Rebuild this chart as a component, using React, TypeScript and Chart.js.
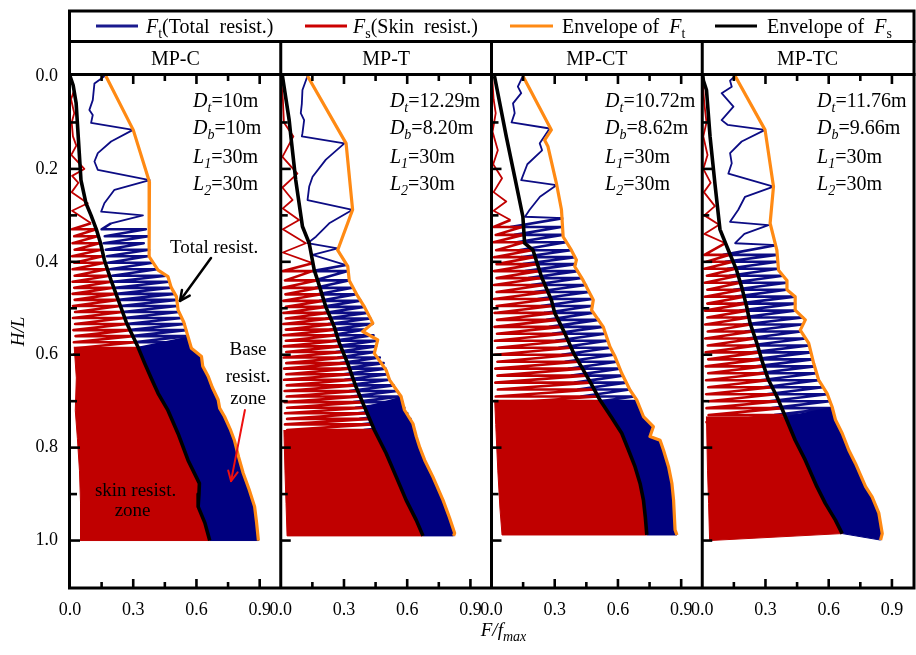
import React, { useEffect, useRef } from 'react';
import { Chart, registerables } from 'chart.js';

Chart.register(...registerables);

const FONT = "'Liberation Serif', 'Times New Roman', Times, serif";
const NAVY = '#0c0c84';
const FILL_NAVY = '#00007f';
const RED = '#c00000';
const ORANGE = '#ff8a14';

const PANEL_TITLES = ['MP-C', 'MP-T', 'MP-CT', 'MP-TC'];
const PANEL_DT = ['10m', '12.29m', '10.72m', '11.76m'];
const PANEL_DB = ['10m', '8.20m', '8.62m', '9.66m'];
const PANEL_L1 = ['30m', '30m', '30m', '30m'];
const PANEL_L2 = ['30m', '30m', '30m', '30m'];
const X_TICK_VALUES = [0, 0.3, 0.6, 0.9];
const X_MINOR = [0.15, 0.45, 0.75];
const Y_TICK_VALUES = [0, 0.2, 0.4, 0.6, 0.8, 1.0];
const Y_MINOR = [0.1, 0.3, 0.5, 0.7, 0.9];

// ---------- MP-C : [H/L, F/fmax] ----------
const ENV_T_C = [[0,0.17],[0.116,0.30],[0.228,0.377],[0.30,0.375],[0.389,0.376],[0.418,0.418],[0.432,0.465],[0.455,0.48],[0.475,0.505],[0.504,0.513],[0.53,0.54],[0.561,0.56],[0.586,0.576],[0.604,0.624],[0.625,0.63],[0.647,0.656],[0.67,0.675],[0.697,0.703],[0.715,0.71],[0.733,0.733],[0.76,0.76],[0.784,0.78],[0.82,0.80],[0.855,0.822],[0.89,0.85],[0.927,0.876],[0.96,0.885],[1.0,0.894]];
const ENV_S_C = [[0,0.0],[0.02,0.015],[0.058,0.029],[0.166,0.044],[0.224,0.052],[0.274,0.076],[0.30,0.10],[0.33,0.125],[0.36,0.145],[0.396,0.163],[0.44,0.195],[0.48,0.227],[0.53,0.267],[0.583,0.322],[0.618,0.354],[0.65,0.385],[0.683,0.418],[0.72,0.465],[0.77,0.513],[0.827,0.56],[0.877,0.614],[0.90,0.612],[0.927,0.608],[0.962,0.64],[1.0,0.663]];
const BLUE_TOP_C = [[0,0.165],[0.016,0.116],[0.052,0.108],[0.073,0.092],[0.084,0.108],[0.101,0.10],[0.116,0.299],[0.141,0.195],[0.166,0.132],[0.184,0.116],[0.202,0.132],[0.224,0.378],[0.245,0.211],[0.274,0.163],[0.292,0.148],[0.30,0.346],[0.317,0.195]];
const RED_TOP_C = [[0,0.0],[0.03,0.02],[0.05,0.005],[0.08,0.02],[0.10,0.008],[0.13,0.014],[0.15,0.03],[0.17,0.006],[0.20,0.068],[0.215,0.01],[0.23,0.04],[0.25,0.008],[0.274,0.084],[0.29,0.01],[0.317,0.10]];
// cycles: [H/L, Ft peak, Ft trough, Fs peak, Fs trough]
const CYC_C = [[0.330,0.360,0.150,0.125,0.010],[0.345,0.372,0.165,0.130,0.020],[0.360,0.350,0.160,0.140,0.012],[0.374,0.375,0.170,0.148,0.022],[0.388,0.368,0.175,0.155,0.010],[0.402,0.392,0.180,0.165,0.020],[0.416,0.412,0.190,0.172,0.012],[0.430,0.455,0.200,0.188,0.022],[0.443,0.468,0.205,0.196,0.012],[0.456,0.478,0.215,0.205,0.020],[0.469,0.495,0.222,0.218,0.012],[0.482,0.505,0.232,0.228,0.022],[0.495,0.508,0.240,0.238,0.014],[0.508,0.515,0.250,0.248,0.024],[0.521,0.528,0.258,0.260,0.014],[0.534,0.542,0.268,0.270,0.024],[0.547,0.550,0.280,0.283,0.016],[0.560,0.558,0.292,0.298,0.026],[0.573,0.566,0.305,0.310,0.018],[0.586,0.575,0.316,0.322,0.026],[0.599,0.605,0.328,0.335,0.020]];
const LEFT_C = [[0.583,0.02],[0.65,0.03],[0.72,0.025],[0.78,0.035],[0.85,0.045],[0.92,0.05],[1.0,0.05]];

// ---------- MP-T ----------
const ENV_T_T = [[0,0.127],[0.145,0.31],[0.288,0.341],[0.375,0.27],[0.41,0.318],[0.44,0.325],[0.47,0.36],[0.497,0.397],[0.532,0.437],[0.55,0.389],[0.568,0.46],[0.597,0.444],[0.633,0.50],[0.654,0.516],[0.69,0.571],[0.719,0.587],[0.748,0.627],[0.776,0.643],[0.80,0.66],[0.827,0.683],[0.863,0.722],[0.913,0.77],[0.95,0.80],[0.984,0.825],[0.99,0.82]];
const ENV_S_T = [[0,0.008],[0.095,0.04],[0.13,0.048],[0.224,0.071],[0.324,0.103],[0.36,0.135],[0.418,0.159],[0.44,0.175],[0.497,0.214],[0.54,0.254],[0.575,0.278],[0.619,0.318],[0.669,0.357],[0.712,0.397],[0.762,0.444],[0.812,0.50],[0.863,0.548],[0.913,0.595],[0.956,0.643],[0.99,0.675]];
const BLUE_TOP_T = [[0,0.127],[0.03,0.103],[0.06,0.10],[0.08,0.095],[0.095,0.111],[0.123,0.103],[0.13,0.10],[0.145,0.302],[0.18,0.214],[0.217,0.151],[0.238,0.135],[0.267,0.127],[0.288,0.341],[0.317,0.23],[0.346,0.167],[0.36,0.127],[0.371,0.27],[0.385,0.151],[0.407,0.31]];
const RED_TOP_T = [[0,0.0],[0.05,0.01],[0.1,0.015],[0.13,0.06],[0.174,0.008],[0.21,0.079],[0.24,0.008],[0.267,0.056],[0.285,0.01],[0.31,0.087],[0.33,0.01],[0.36,0.119],[0.38,0.01],[0.403,0.151]];
const CYC_T = [[0.420,0.318,0.150,0.150,0.010],[0.440,0.322,0.160,0.170,0.020],[0.456,0.340,0.165,0.182,0.010],[0.470,0.358,0.175,0.192,0.022],[0.484,0.378,0.185,0.205,0.012],[0.497,0.395,0.195,0.214,0.024],[0.510,0.410,0.205,0.222,0.012],[0.522,0.425,0.215,0.235,0.024],[0.534,0.435,0.225,0.252,0.012],[0.546,0.395,0.235,0.260,0.024],[0.558,0.440,0.240,0.266,0.012],[0.570,0.458,0.248,0.275,0.024],[0.582,0.452,0.255,0.285,0.014],[0.594,0.446,0.262,0.296,0.026],[0.606,0.470,0.272,0.306,0.014],[0.618,0.488,0.282,0.316,0.026],[0.630,0.497,0.290,0.326,0.016],[0.642,0.508,0.298,0.336,0.026],[0.654,0.515,0.305,0.344,0.016],[0.666,0.535,0.315,0.354,0.028],[0.678,0.552,0.325,0.366,0.018],[0.690,0.570,0.335,0.377,0.028],[0.702,0.578,0.345,0.388,0.018],[0.714,0.586,0.355,0.398,0.030],[0.726,0.600,0.365,0.410,0.020],[0.738,0.615,0.375,0.420,0.030],[0.750,0.627,0.385,0.432,0.020],[0.762,0.635,0.395,0.444,0.030],[0.774,0.642,0.405,0.458,0.022]];
const LEFT_T = [[0.762,0.015],[0.85,0.02],[0.92,0.025],[0.99,0.03]];

// ---------- MP-CT ----------
const ENV_T_CT = [[0,0.149],[0.116,0.284],[0.138,0.252],[0.152,0.268],[0.231,0.308],[0.288,0.332],[0.346,0.34],[0.375,0.379],[0.396,0.403],[0.41,0.395],[0.44,0.435],[0.468,0.467],[0.482,0.483],[0.504,0.475],[0.54,0.53],[0.583,0.562],[0.604,0.586],[0.64,0.618],[0.676,0.657],[0.697,0.689],[0.733,0.721],[0.755,0.768],[0.776,0.752],[0.784,0.80],[0.805,0.816],[0.841,0.84],[0.877,0.856],[0.913,0.864],[0.977,0.871],[0.988,0.88]];
const ENV_S_CT = [[0,0.014],[0.13,0.07],[0.217,0.11],[0.303,0.149],[0.36,0.157],[0.375,0.197],[0.432,0.237],[0.482,0.284],[0.51,0.30],[0.554,0.348],[0.597,0.39],[0.626,0.427],[0.66,0.47],[0.697,0.514],[0.735,0.57],[0.769,0.618],[0.805,0.65],[0.841,0.681],[0.877,0.705],[0.913,0.721],[0.95,0.73],[0.988,0.737]];
const BLUE_TOP_CT = [[0,0.149],[0.023,0.125],[0.037,0.141],[0.059,0.102],[0.08,0.11],[0.10,0.095],[0.113,0.276],[0.145,0.229],[0.16,0.24],[0.19,0.17],[0.224,0.141],[0.235,0.308],[0.26,0.23],[0.288,0.181],[0.303,0.159],[0.306,0.34]];
const RED_TOP_CT = [[0,0.003],[0.05,0.01],[0.08,0.02],[0.12,0.005],[0.16,0.03],[0.19,0.008],[0.22,0.05],[0.25,0.01],[0.27,0.07],[0.29,0.01],[0.31,0.09]];
const CYC_CT = [[0.325,0.330,0.090,0.145,0.010],[0.342,0.336,0.110,0.150,0.020],[0.358,0.352,0.120,0.155,0.010],[0.375,0.375,0.130,0.190,0.022],[0.390,0.395,0.140,0.200,0.012],[0.405,0.398,0.150,0.212,0.024],[0.420,0.408,0.160,0.222,0.012],[0.435,0.428,0.175,0.236,0.024],[0.450,0.448,0.190,0.250,0.012],[0.465,0.462,0.205,0.266,0.024],[0.480,0.478,0.220,0.280,0.012],[0.495,0.476,0.235,0.288,0.024],[0.510,0.478,0.250,0.298,0.014],[0.525,0.508,0.262,0.312,0.026],[0.540,0.527,0.275,0.330,0.014],[0.555,0.538,0.290,0.346,0.026],[0.570,0.550,0.305,0.360,0.016],[0.585,0.563,0.320,0.375,0.028],[0.600,0.580,0.335,0.390,0.016],[0.615,0.594,0.350,0.410,0.028],[0.630,0.608,0.365,0.428,0.018],[0.645,0.621,0.380,0.447,0.028],[0.660,0.638,0.395,0.466,0.018],[0.675,0.655,0.410,0.485,0.030],[0.690,0.676,0.425,0.502,0.020],[0.705,0.692,0.440,0.518,0.030]];
const LEFT_CT = [[0.697,0.015],[0.75,0.02],[0.85,0.03],[0.93,0.04],[0.988,0.05]];

// ---------- MP-TC ----------
const ENV_T_TC = [[0,0.156],[0.116,0.298],[0.238,0.338],[0.317,0.322],[0.375,0.354],[0.418,0.362],[0.44,0.402],[0.46,0.402],[0.475,0.441],[0.504,0.441],[0.525,0.489],[0.547,0.465],[0.575,0.505],[0.619,0.529],[0.654,0.552],[0.683,0.592],[0.712,0.616],[0.74,0.632],[0.769,0.664],[0.805,0.695],[0.834,0.727],[0.884,0.775],[0.906,0.806],[0.941,0.838],[0.985,0.854],[0.999,0.846]];
const ENV_S_TC = [[0,0.003],[0.009,0.005],[0.03,0.02],[0.13,0.037],[0.231,0.06],[0.33,0.084],[0.375,0.124],[0.418,0.163],[0.454,0.187],[0.497,0.211],[0.532,0.227],[0.575,0.259],[0.611,0.282],[0.654,0.314],[0.69,0.354],[0.733,0.394],[0.784,0.441],[0.827,0.489],[0.884,0.544],[0.92,0.584],[0.956,0.632],[0.985,0.664]];
const BLUE_TOP_TC = [[0,0.156],[0.01,0.132],[0.023,0.14],[0.037,0.092],[0.066,0.148],[0.095,0.092],[0.105,0.12],[0.116,0.298],[0.141,0.187],[0.166,0.132],[0.188,0.14],[0.21,0.124],[0.238,0.338],[0.26,0.203],[0.288,0.171],[0.314,0.132],[0.321,0.314],[0.34,0.2],[0.36,0.156],[0.364,0.354]];
const RED_TOP_TC = [[0,0.0],[0.06,0.01],[0.1,0.02],[0.13,0.005],[0.17,0.025],[0.2,0.005],[0.23,0.04],[0.25,0.008],[0.28,0.06],[0.3,0.01],[0.32,0.08],[0.34,0.01],[0.36,0.11]];
const CYC_TC = [[0.385,0.352,0.100,0.130,0.010],[0.400,0.356,0.110,0.145,0.020],[0.415,0.360,0.120,0.158,0.010],[0.430,0.382,0.130,0.170,0.022],[0.445,0.400,0.140,0.180,0.012],[0.460,0.398,0.150,0.190,0.024],[0.475,0.438,0.160,0.198,0.012],[0.490,0.440,0.170,0.206,0.024],[0.505,0.438,0.180,0.213,0.012],[0.520,0.476,0.188,0.220,0.024],[0.535,0.472,0.196,0.228,0.014],[0.550,0.466,0.205,0.238,0.026],[0.565,0.488,0.215,0.250,0.014],[0.580,0.505,0.225,0.260,0.026],[0.595,0.514,0.235,0.270,0.016],[0.610,0.522,0.245,0.280,0.028],[0.625,0.531,0.255,0.290,0.016],[0.640,0.541,0.265,0.302,0.028],[0.655,0.551,0.275,0.313,0.018],[0.670,0.572,0.290,0.330,0.028],[0.685,0.592,0.305,0.347,0.018],[0.700,0.604,0.318,0.362,0.030],[0.715,0.616,0.330,0.376,0.020],[0.730,0.624,0.342,0.389,0.030],[0.745,0.636,0.355,0.403,0.020]];
const LEFT_TC = [[0.733,0.02],[0.85,0.025],[0.92,0.03],[1.0,0.035]];

const CUT_BLUE = [0.583, 0.712, 0.697, 0.733];
const CUT_RED = [0.583, 0.762, 0.697, 0.733];

const PANELS = [
  { envT: ENV_T_C, envS: ENV_S_C, blueTop: BLUE_TOP_C, redTop: RED_TOP_C, cyc: CYC_C, left: LEFT_C },
  { envT: ENV_T_T, envS: ENV_S_T, blueTop: BLUE_TOP_T, redTop: RED_TOP_T, cyc: CYC_T, left: LEFT_T },
  { envT: ENV_T_CT, envS: ENV_S_CT, blueTop: BLUE_TOP_CT, redTop: RED_TOP_CT, cyc: CYC_CT, left: LEFT_CT },
  { envT: ENV_T_TC, envS: ENV_S_TC, blueTop: BLUE_TOP_TC, redTop: RED_TOP_TC, cyc: CYC_TC, left: LEFT_TC },
];

type Run = [string, number]; // flags: 1 italic, 2 subscript

function rich(ctx: CanvasRenderingContext2D, runs: Run[], x: number, y: number, size: number, align: 'left' | 'center') {
  const fontFor = (f: number) => `${f & 1 ? 'italic ' : ''}${f & 2 ? Math.round(size * 0.72) : size}px ${FONT}`;
  let w = 0;
  for (const [t, f] of runs) { ctx.font = fontFor(f); w += ctx.measureText(t).width; }
  let cx = align === 'center' ? x - w / 2 : x;
  ctx.textAlign = 'left';
  ctx.textBaseline = 'alphabetic';
  for (const [t, f] of runs) {
    ctx.font = fontFor(f);
    ctx.fillText(t, cx, y + (f & 2 ? size * 0.25 : 0));
    cx += ctx.measureText(t).width;
  }
}

function seg(ctx: CanvasRenderingContext2D, x1: number, y1: number, x2: number, y2: number) {
  ctx.beginPath(); ctx.moveTo(x1, y1); ctx.lineTo(x2, y2); ctx.stroke();
}

function arrow(ctx: CanvasRenderingContext2D, x1: number, y1: number, x2: number, y2: number, color: string, w: number) {
  ctx.strokeStyle = color; ctx.lineWidth = w; ctx.lineCap = 'round';
  seg(ctx, x1, y1, x2, y2);
  const a = Math.atan2(y2 - y1, x2 - x1);
  const L = 11;
  seg(ctx, x2, y2, x2 - L * Math.cos(a - 0.45), y2 - L * Math.sin(a - 0.45));
  seg(ctx, x2, y2, x2 - L * Math.cos(a + 0.45), y2 - L * Math.sin(a + 0.45));
}

const LEGEND = [
  { color: '#1a1a8e', x1: 96, x2: 138, tx: 146, runs: [['F', 1], ['t', 2], ['(Total  resist.)', 0]] as Run[] },
  { color: '#cc0000', x1: 305, x2: 347, tx: 353, runs: [['F', 1], ['s', 2], ['(Skin  resist.)', 0]] as Run[] },
  { color: ORANGE, x1: 510, x2: 553, tx: 562, runs: [['Envelope of  ', 0], ['F', 1], ['t', 2]] as Run[] },
  { color: '#000', x1: 715, x2: 757, tx: 767, runs: [['Envelope of  ', 0], ['F', 1], ['s', 2]] as Run[] },
];
const ANNOT_X = [0.584, 0.518, 0.539, 0.545];

const framePlugin = {
  id: 'frame',
  afterDraw(chart: any) {
    const ctx: CanvasRenderingContext2D = chart.ctx;
    const xs = chart.scales.x;
    const ys = chart.scales.y;
    const { left, right, top, bottom } = chart.chartArea;
    const X = (v: number) => xs.getPixelForValue(v);
    const Y = (v: number) => ys.getPixelForValue(v);
    ctx.save();
    ctx.strokeStyle = '#000';
    ctx.fillStyle = '#000';
    ctx.lineCap = 'butt';
    ctx.lineWidth = 2.6;
    for (let k = 0; k < 4; k++) {
      const x0 = X(k);
      for (const v of X_TICK_VALUES.slice(1)) {
        const px = X(k + v);
        seg(ctx, px, bottom, px, bottom - 8);
        seg(ctx, px, top, px, top + 8);
      }
      for (const v of X_MINOR) {
        const px = X(k + v);
        seg(ctx, px, bottom, px, bottom - 5);
        seg(ctx, px, top, px, top + 5);
      }
      for (const v of Y_TICK_VALUES.slice(1)) seg(ctx, x0, Y(v), x0 + 10, Y(v));
      for (const v of Y_MINOR) seg(ctx, x0, Y(v), x0 + 7, Y(v));
    }
    ctx.lineWidth = 3;
    ctx.strokeRect(left - 0.5, 11, right + 1 - (left - 0.5), bottom + 1 - 11);
    seg(ctx, left - 2, 41.5, right + 2.5, 41.5);
    seg(ctx, left - 2, 74.5, right + 2.5, 74.5);
    for (let k = 1; k < 4; k++) seg(ctx, X(k), 41.5, X(k), bottom + 1);
    for (const it of LEGEND) {
      ctx.strokeStyle = it.color; ctx.lineWidth = 3;
      seg(ctx, it.x1, 26, it.x2, 26);
      ctx.fillStyle = '#000';
      rich(ctx, it.runs, it.tx, 33, 20, 'left');
    }
    for (let k = 0; k < 4; k++) {
      ctx.fillStyle = '#000';
      rich(ctx, [[PANEL_TITLES[k], 0]], X(k + 0.5), 65, 20, 'center');
      const ax = X(k + ANNOT_X[k]);
      rich(ctx, [['D', 1], ['t', 3], ['=' + PANEL_DT[k], 0]], ax, Y(0.066), 20, 'left');
      rich(ctx, [['D', 1], ['b', 3], ['=' + PANEL_DB[k], 0]], ax, Y(0.1255), 20, 'left');
      rich(ctx, [['L', 1], ['1', 3], ['=' + PANEL_L1[k], 0]], ax, Y(0.1867), 20, 'left');
      rich(ctx, [['L', 1], ['2', 3], ['=' + PANEL_L2[k], 0]], ax, Y(0.245), 20, 'left');
    }
    ctx.fillStyle = '#000';
    rich(ctx, [['Total resist.', 0]], X(0.474), Y(0.381), 19, 'left');
    arrow(ctx, X(0.669), Y(0.392), X(0.522), Y(0.484), '#000', 2.5);
    ctx.fillStyle = '#000';
    rich(ctx, [['Base', 0]], X(0.845), Y(0.601), 19, 'center');
    rich(ctx, [['resist.', 0]], X(0.845), Y(0.658), 19, 'center');
    rich(ctx, [['zone', 0]], X(0.845), Y(0.706), 19, 'center');
    arrow(ctx, X(0.83), Y(0.719), X(0.764), Y(0.872), '#ee1010', 2);
    ctx.fillStyle = '#000';
    rich(ctx, [['skin resist.', 0]], X(0.311), Y(0.904), 19, 'center');
    rich(ctx, [['zone', 0]], X(0.297), Y(0.947), 19, 'center');
    rich(ctx, [['F/f', 1], ['max', 3]], X(2) + 12, 636, 19, 'center');
    ctx.translate(24, (top + bottom) / 2);
    ctx.rotate(-Math.PI / 2);
    rich(ctx, [['H/L', 1]], 0, 0, 19, 'center');
    ctx.restore();
  },
};

function fromCut(env: number[][], cut: number) {
  let i = env.findIndex(p => p[0] >= cut - 1e-9);
  if (i < 0) i = env.length - 1;
  if (env[i][0] > cut + 1e-9) i = Math.max(0, i - 1);
  return env.slice(i);
}

function cyclePath(start: number[], cyc: number[][], peak: number, trough: number) {
  const pts = [start];
  for (const c of cyc) { pts.push([c[0], c[trough]]); pts.push([c[0], c[peak]]); }
  return pts;
}

export default function App() {
  const ref = useRef<HTMLCanvasElement>(null);
  useEffect(() => {
    const canvas = ref.current!;
    const datasets: any[] = [];
    const toXY = (k: number, arr: number[][]) => arr.map(([h, v]) => ({ x: v + k, y: h }));
    const line = (data: any[], color: string, width: number, order: number, fill: any = false, bg?: string) => ({
      data, showLine: true, borderColor: color, backgroundColor: bg || color, borderWidth: width,
      pointRadius: 0, fill, order, borderJoinStyle: 'round', tension: 0,
    });
    PANELS.forEach((p, k) => {
      const blueCyc = cyclePath(p.blueTop[p.blueTop.length - 1], p.cyc, 1, 2);
      const redCyc = cyclePath(p.redTop[p.redTop.length - 1], p.cyc, 3, 4);
      const bluePoly = [...fromCut(p.envS, CUT_BLUE[k]), ...fromCut(p.envT, CUT_BLUE[k]).reverse()];
      const redPoly = [...p.left, ...fromCut(p.envS, CUT_RED[k]).reverse()];
      datasets.push(line(toXY(k, p.blueTop), NAVY, 1.8, 7));
      datasets.push(line(toXY(k, blueCyc), NAVY, 2.6, 6));
      datasets.push(line(toXY(k, bluePoly), FILL_NAVY, 1, 5, 'shape', FILL_NAVY));
      datasets.push(line(toXY(k, p.redTop), RED, 1.8, 4));
      datasets.push(line(toXY(k, redCyc), RED, 2.6, 4));
      datasets.push(line(toXY(k, redPoly), RED, 1, 3, 'shape', RED));
      datasets.push(line(toXY(k, p.envS), '#000', 3.6, 1));
      datasets.push(line(toXY(k, p.envT), ORANGE, 3.2, 0));
    });
    const xTicks: number[] = [];
    for (let k = 0; k < 4; k++) for (const v of X_TICK_VALUES) xTicks.push(k + v);
    const chart = new Chart(canvas, {
      type: 'scatter',
      data: { datasets },
      options: {
        responsive: false,
        animation: false,
        events: [],
        layout: { padding: { top: 76, left: 0, right: 3, bottom: 0 } },
        plugins: { legend: { display: false }, tooltip: { enabled: false } },
        scales: {
          x: {
            type: 'linear', min: 0, max: 4,
            afterBuildTicks: (s: any) => { s.ticks = xTicks.map(v => ({ value: v })); },
            afterFit: (s: any) => { s.height = 68; },
            grid: { display: false, drawTicks: false },
            border: { display: false },
            ticks: {
              autoSkip: false, maxRotation: 0, minRotation: 0, padding: 12, color: '#000',
              font: { family: FONT, size: 18 },
              callback: (v: any) => (Number(v) % 1).toFixed(1),
            },
          },
          y: {
            type: 'linear', min: 0, max: 1.1, reverse: true,
            afterBuildTicks: (s: any) => { s.ticks = Y_TICK_VALUES.map(v => ({ value: v })); },
            afterFit: (s: any) => { s.width = 70; },
            grid: { display: false, drawTicks: false },
            border: { display: false },
            ticks: {
              padding: 12, color: '#000',
              font: { family: FONT, size: 18 },
              callback: (v: any) => Number(v).toFixed(1),
            },
          },
        },
      } as any,
      plugins: [framePlugin],
    });
    return () => chart.destroy();
  }, []);
  return (
    <div style={{ position: 'absolute', left: 0, top: 0, width: 916, height: 655, background: '#fff' }}>
      <canvas ref={ref} width={916} height={655} style={{ display: 'block', width: 916, height: 655 }} />
    </div>
  );
}
